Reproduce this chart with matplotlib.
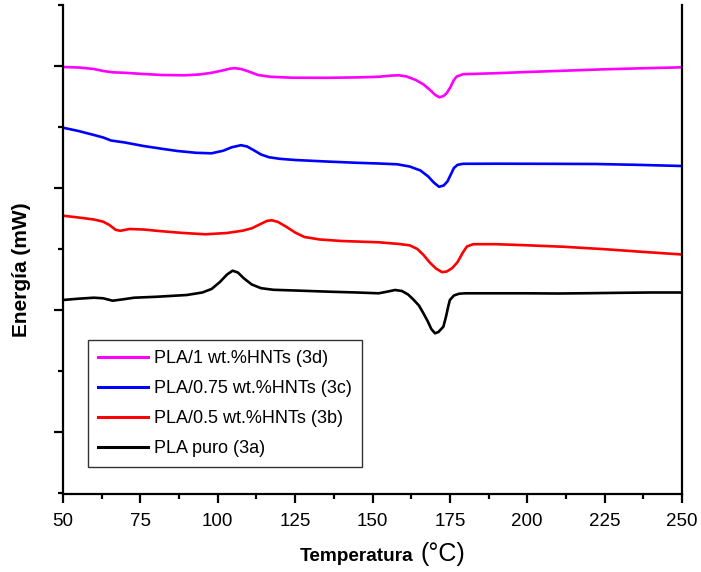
import matplotlib
matplotlib.use("Agg")
import matplotlib.pyplot as plt
from matplotlib.ticker import MultipleLocator, NullFormatter

plt.rcParams["font.family"] = ["Liberation Sans", "DejaVu Sans"]

# DSC heating scans, energy in arbitrary (stacked) units
T_3d = [50, 55, 60, 63, 66, 70, 76, 82, 89, 94, 98, 101.5, 104, 105.5, 107.5, 110, 113, 117,
        124, 135, 145, 152, 156, 158.5, 161, 164, 166.5, 168.6, 170.3, 171.6, 173, 174, 175.2,
        176.2, 177.2, 179.3, 190, 200, 212, 225, 237, 250]
E_3d = [426.0, 425.5, 424.0, 422.0, 420.7, 420.2, 419.0, 418.0, 417.7, 418.5, 420.2, 422.5,
        424.4, 424.8, 424.0, 421.5, 418.0, 416.2, 415.3, 415.2, 415.6, 416.2, 417.4, 417.7,
        416.5, 413.0, 408.5, 403.0, 398.0, 395.7, 397.0, 400.0, 406.0, 412.5, 416.5, 418.8,
        419.8, 421.0, 422.3, 423.7, 424.7, 425.7]

T_3c = [50, 55, 60, 63, 65.5, 70, 76, 82, 87, 93, 98, 101.8, 104.5, 107.5, 109.5, 111.5, 114,
        116.5, 120, 125, 135, 145, 152, 158, 162, 165.5, 168, 169.8, 171.5, 173, 174.2, 175.3,
        176.3, 177.5, 179.3, 190, 205, 222, 235, 250]
E_3c = [365.3, 362.0, 358.0, 355.5, 352.5, 350.5, 347.0, 344.2, 342.0, 340.2, 339.7, 342.3,
        345.7, 347.8, 346.5, 343.0, 338.5, 335.8, 334.2, 333.0, 331.5, 330.2, 329.5, 328.7,
        326.5, 322.5, 316.5, 310.5, 306.2, 307.5, 311.5, 318.5, 325.0, 328.2, 329.2, 329.3,
        329.2, 329.0, 328.2, 327.0]

T_3b = [50, 55, 60, 63, 65, 67, 68.5, 71.5, 76, 81, 88, 96, 103, 108, 111, 113.5, 116, 117.5,
        119.5, 122, 125, 128, 133, 140, 152, 158, 162, 164.5, 166.5, 168.5, 170.5, 172.5, 174,
        175.8, 177.5, 179.2, 180.5, 182.5, 190, 200, 212, 225, 237, 250]
E_3b = [277.3, 275.5, 273.5, 271.3, 268.0, 263.2, 262.2, 264.0, 263.5, 262.0, 260.2, 258.7,
        260.0, 262.3, 264.7, 268.5, 272.2, 272.7, 271.0, 266.5, 260.5, 256.0, 253.5, 252.0,
        250.7, 249.2, 247.7, 244.0, 238.0, 230.5, 224.5, 220.8, 221.5, 225.0, 231.0, 240.5,
        246.5, 248.8, 248.8, 247.7, 246.2, 243.8, 241.2, 238.5]

T_3a = [50, 55, 60, 63, 66, 69, 73, 80, 90, 95, 98, 100.7, 103, 104.8, 106.5, 108.5, 111, 114,
        118, 125, 136, 145, 152, 155, 157.3, 159.5, 161.5, 163.2, 165, 166.4, 167.8, 169, 170.2,
        171.3, 172.9, 173.8, 174.5, 175.0, 176.3, 178, 180, 190, 200, 210, 220, 230, 240, 250]
E_3a = [193.0, 194.3, 195.3, 194.7, 192.3, 193.5, 195.3, 196.2, 198.0, 200.5, 204.0, 211.0,
        218.5, 222.3, 220.5, 214.5, 208.5, 204.8, 203.2, 202.5, 201.3, 200.5, 199.7, 201.5,
        203.0, 202.0, 198.5, 193.5, 187.5, 180.0, 172.0, 164.0, 159.7, 161.0, 166.3, 177.0,
        187.0, 193.0, 197.5, 199.3, 199.7, 199.7, 199.7, 199.5, 199.8, 200.2, 200.5, 200.5]

series = [
    (T_3d, E_3d, "#ff00ff", "PLA/1 wt.%HNTs (3d)"),
    (T_3c, E_3c, "#0000ff", "PLA/0.75 wt.%HNTs (3c)"),
    (T_3b, E_3b, "#ff0000", "PLA/0.5 wt.%HNTs (3b)"),
    (T_3a, E_3a, "#000000", "PLA puro (3a)"),
]

fig = plt.figure(figsize=(7.01, 5.72), dpi=100)
ax = fig.add_axes([63 / 701, 78 / 572, 619 / 701, 489 / 572])

for t, e, c, lab in series:
    ax.plot(t, e, color=c, lw=1.9, label=lab)

ax.set_xlim(50, 250)
ax.set_ylim(-1, 488)
ax.xaxis.set_major_locator(MultipleLocator(25))
ax.xaxis.set_minor_locator(MultipleLocator(12.5))
ax.yaxis.set_major_locator(MultipleLocator(122, offset=61))
ax.yaxis.set_minor_locator(MultipleLocator(122))
ax.yaxis.set_major_formatter(NullFormatter())

ax.spines["top"].set_visible(False)
for s in ("left", "bottom", "right"):
    ax.spines[s].set_linewidth(1.6)
ax.tick_params(which="both", direction="out", width=1.6, top=False, right=False)
ax.tick_params(which="major", length=6.5, labelsize=13.5, pad=7)
ax.tick_params(which="minor", length=3.5)

leg = ax.legend(loc="lower left", bbox_to_anchor=(25 / 619, 27 / 489), borderaxespad=0,
                fontsize=13, handlelength=2.8, handletextpad=0.3, labelspacing=0.72,
                borderpad=0.55, fancybox=False, framealpha=1)
leg.get_frame().set_edgecolor("#333333")
leg.get_frame().set_linewidth(1.0)
for h in leg.get_lines():
    h.set_linewidth(2.2)

fig.text(22 / 701, 1 - 270 / 572, "Energía (mW)", rotation=90, ha="center", va="center",
         fontsize=15, fontweight="bold")
fig.text(413 / 701, 1 - 561 / 572, "Temperatura", ha="right", va="baseline",
         fontsize=13.7, fontweight="bold")
fig.text(420 / 701, 1 - 561 / 572, "(°C)", ha="left", va="baseline", fontsize=18)

fig.savefig("out.png", dpi=100)
